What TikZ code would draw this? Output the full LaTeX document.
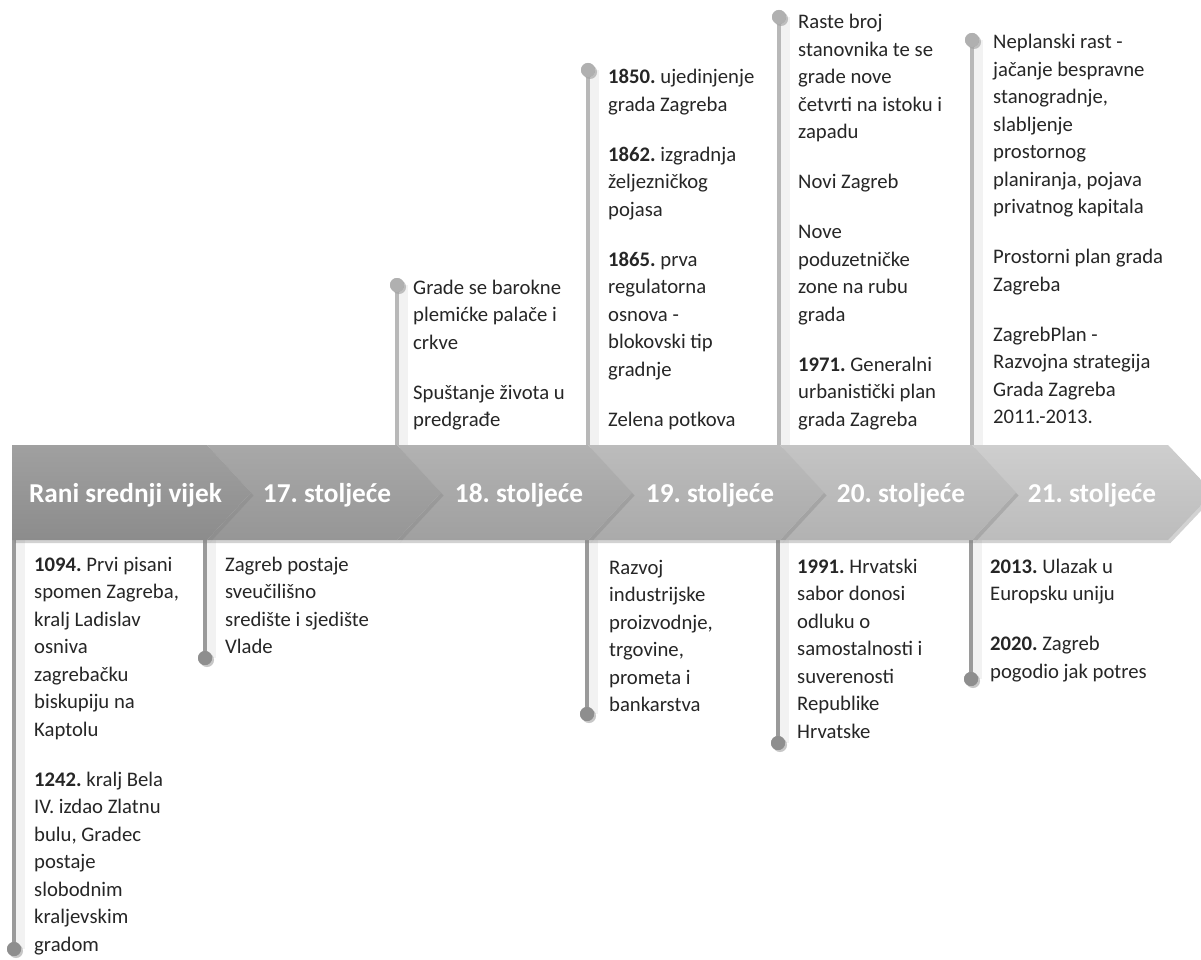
\documentclass[tikz,border=0pt]{standalone}
\usepackage{fontspec}
\setmainfont{Carlito}
\usetikzlibrary{shadows,calc}
\frenchspacing
\definecolor{txt}{HTML}{262626}
\definecolor{cStemUp}{HTML}{B8B8B8}
\definecolor{cDotUp}{HTML}{B0B0B0}
\definecolor{cStemDn}{HTML}{9A9A9A}
\definecolor{cDotDn}{HTML}{8E8E8E}
\newcommand{\blk}[1]{\parbox[t]{240pt}{\fontsize{20.7}{27.5}\selectfont\frenchspacing\raggedright #1}}
\newcommand{\pgap}{\\[22.5pt]}
\tikzset{
  txtblock/.style={anchor=base west, inner sep=0pt, text=txt},
  bandlabel/.style={anchor=base, inner sep=0pt, text=white, font=\fontsize{27.3}{30}\selectfont\bfseries\frenchspacing},
  dotupper/.style={circle, fill=cDotUp, minimum size=14pt, inner sep=0pt, drop shadow={shadow xshift=2pt, shadow yshift=-2pt, opacity=0.25}},
  dotlower/.style={circle, fill=cDotDn, minimum size=14pt, inner sep=0pt, drop shadow={shadow xshift=2pt, shadow yshift=-2pt, opacity=0.25}},
  stemshadow/.style={line width=9pt, black, opacity=0.05},
  stemupper/.style={line width=4pt, draw=cStemUp},
  stemlower/.style={line width=4pt, draw=cStemDn},
  chev/.style={drop shadow={shadow xshift=2.5pt, shadow yshift=-3pt, opacity=0.35}}
}
\begin{document}
\begin{tikzpicture}[x=1pt,y=-1pt]
\useasboundingbox (0,0) rectangle (1201,960);
\fill[white] (0,0) rectangle (1201,960);

% dots
\node[dotlower] (d1) at (14,949) {};
\node[dotlower] (d2) at (205,658) {};
\node[dotupper] (d3) at (397,285) {};
\node[dotupper] (d4a) at (588,70) {};
\node[dotlower] (d4b) at (587,714) {};
\node[dotupper] (d5a) at (779,17) {};
\node[dotlower] (d5b) at (778,743) {};
\node[dotupper] (d6a) at (972,40) {};
\node[dotlower] (d6b) at (971,679) {};

% band edge coordinates
\coordinate (e1) at (14,540);
\coordinate (e2) at (205,540);
\coordinate (e3) at (397,445);
\coordinate (e4a) at (588,445);
\coordinate (e4b) at (587,540);
\coordinate (e5a) at (779,445);
\coordinate (e5b) at (778,540);
\coordinate (e6a) at (972,445);
\coordinate (e6b) at (971,540);

% stem shadows
\foreach \d/\e in {d1/e1,d2/e2,d3/e3,d4a/e4a,d4b/e4b,d5a/e5a,d5b/e5b,d6a/e6a,d6b/e6b}{
  \draw[stemshadow] ($(\d.center)+(6,0)$) -- ($(\e)+(6,0)$);
}
% stems
\draw[stemlower] (d1.center) -- (e1);
\draw[stemlower] (d2.center) -- (e2);
\draw[stemupper] (d3.center) -- (e3);
\draw[stemupper] (d4a.center) -- (e4a);
\draw[stemlower] (d4b.center) -- (e4b);
\draw[stemupper] (d5a.center) -- (e5a);
\draw[stemlower] (d5b.center) -- (e5b);
\draw[stemupper] (d6a.center) -- (e6a);
\draw[stemlower] (d6b.center) -- (e6b);
% redraw dots on top of stems
\node[dotlower] at (d1) {};
\node[dotlower] at (d2) {};
\node[dotupper] at (d3) {};
\node[dotupper] at (d4a) {};
\node[dotlower] at (d4b) {};
\node[dotupper] at (d5a) {};
\node[dotlower] at (d5b) {};
\node[dotupper] at (d6a) {};
\node[dotlower] at (d6b) {};

% chevrons, right to left
\path[chev, top color={rgb,255:red,206;green,206;blue,206}, bottom color={rgb,255:red,188;green,188;blue,188}]
  (972,445) -- (1168,445) -- (1213,492.5) -- (1168,540) -- (972,540) -- (1016,492.5) -- cycle;
\path[chev, top color={rgb,255:red,196;green,196;blue,196}, bottom color={rgb,255:red,178;green,178;blue,178}]
  (780,445) -- (972,445) -- (1016,492.5) -- (972,540) -- (780,540) -- (824,492.5) -- cycle;
\path[chev, top color={rgb,255:red,188;green,188;blue,188}, bottom color={rgb,255:red,170;green,170;blue,170}]
  (588,445) -- (780,445) -- (824,492.5) -- (780,540) -- (588,540) -- (632,492.5) -- cycle;
\path[chev, top color={rgb,255:red,178;green,178;blue,178}, bottom color={rgb,255:red,160;green,160;blue,160}]
  (397,445) -- (588,445) -- (632,492.5) -- (588,540) -- (397,540) -- (441,492.5) -- cycle;
\path[chev, top color={rgb,255:red,168;green,168;blue,168}, bottom color={rgb,255:red,150;green,150;blue,150}]
  (207,445) -- (397,445) -- (441,492.5) -- (397,540) -- (207,540) -- (251,492.5) -- cycle;
\path[chev, top color={rgb,255:red,160;green,160;blue,160}, bottom color={rgb,255:red,140;green,140;blue,140}]
  (12,445) -- (207,445) -- (251,492.5) -- (207,540) -- (12,540) -- cycle;

% band labels
\node[bandlabel] (l1) at (125.5,502) {Rani srednji vijek};
\node[bandlabel] (l2) at (327,502) {17. stoljeće};
\node[bandlabel] (l3) at (519,502) {18. stoljeće};
\node[bandlabel] (l4) at (710,502) {19. stoljeće};
\node[bandlabel] (l5) at (901,502) {20. stoljeće};
\node[bandlabel] (l6) at (1092,502) {21. stoljeće};

% text blocks
\node[txtblock] (t1) at (34,571) {\blk{\textbf{1094.} Prvi pisani\\ spomen Zagreba,\\ kralj Ladislav\\ osniva\\ zagrebačku\\ biskupiju na\\ Kaptolu\pgap \textbf{1242.} kralj Bela\\ IV. izdao Zlatnu\\ bulu, Gradec\\ postaje\\ slobodnim\\ kraljevskim\\ gradom}};
\node[txtblock] (t2) at (225,571) {\blk{Zagreb postaje\\ sveučilišno\\ središte i sjedište\\ Vlade}};
\node[txtblock] (t3) at (413,294) {\blk{Grade se barokne\\ plemićke palače i\\ crkve\pgap Spuštanje života u\\ predgrađe}};
\node[txtblock] (t4a) at (608,84) {\blk{\textbf{1850.} ujedinjenje\\ grada Zagreba\pgap \textbf{1862.} izgradnja\\ željezničkog\\ pojasa\pgap \textbf{1865.} prva\\ regulatorna\\ osnova -\\ blokovski tip\\ gradnje\pgap Zelena potkova}};
\node[txtblock] (t4b) at (609,574) {\blk{Razvoj\\ industrijske\\ proizvodnje,\\ trgovine,\\ prometa i\\ bankarstva}};
\node[txtblock] (t5a) at (798,29) {\blk{Raste broj\\ stanovnika te se\\ grade nove\\ četvrti na istoku i\\ zapadu\pgap Novi Zagreb\pgap Nove\\ poduzetničke\\ zone na rubu\\ grada\pgap \textbf{1971.} Generalni\\ urbanistički plan\\ grada Zagreba}};
\node[txtblock] (t5b) at (797,573) {\blk{\textbf{1991.} Hrvatski\\ sabor donosi\\ odluku o\\ samostalnosti i\\ suverenosti\\ Republike\\ Hrvatske}};
\node[txtblock] (t6a) at (993,49) {\blk{Neplanski rast -\\ jačanje bespravne\\ stanogradnje,\\ slabljenje\\ prostornog\\ planiranja, pojava\\ privatnog kapitala\pgap Prostorni plan grada\\ Zagreba\pgap ZagrebPlan -\\ Razvojna strategija\\ Grada Zagreba\\ 2011.-2013.}};
\node[txtblock] (t6b) at (990,573) {\blk{\textbf{2013.} Ulazak u\\ Europsku uniju\pgap \textbf{2020.} Zagreb\\ pogodio jak potres}};
\end{tikzpicture}
\end{document}
